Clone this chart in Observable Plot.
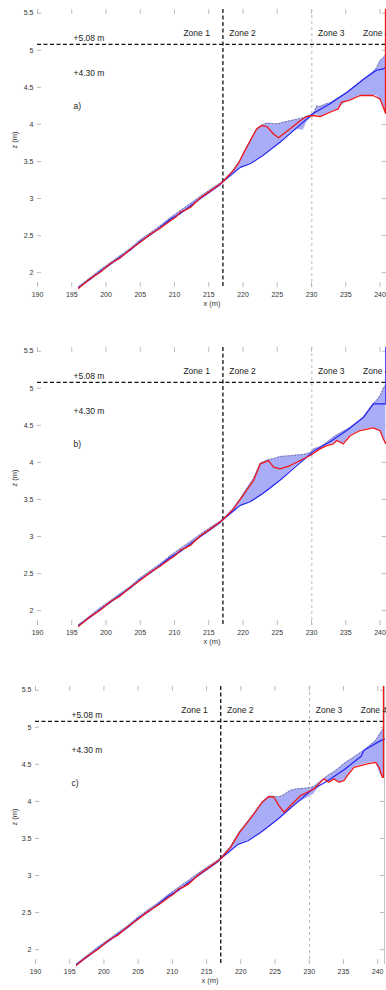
<!DOCTYPE html>
<html>
<head>
<meta charset="utf-8">
<script src="https://cdn.jsdelivr.net/npm/d3@7"></script>
<script src="https://cdn.jsdelivr.net/npm/@observablehq/plot@0.6"></script>
<style>
  html, body { margin: 0; padding: 0; background: #fff; overflow: hidden; }
  #wrap { position: relative; width: 386px; height: 990px; }
  .panel { position: absolute; left: 0; }
</style>
</head>
<body>
<div id="wrap"></div>
<script>
// ---------- axis / reference values ----------
const xTicks = [190, 195, 200, 205, 210, 215, 220, 225, 230, 235, 240];
const yTicks = [2, 2.5, 3, 3.5, 4, 4.5, 5, 5.5];
const zoneLines = [217.07, 230.05];      // black dashed, grey dashed
const levelLine = [5.08];                // +5.08 m
const zoneLabels = [
  {x: 211.3, z: 5.226, t: "Zone 1"},
  {x: 218.0, z: 5.226, t: "Zone 2"},
  {x: 230.96, z: 5.226, t: "Zone 3"},
  {x: 237.52, z: 5.226, t: "Zone 4"}
];
const levelNotes = [
  {x: 195.25, z: 5.16, t: "+5.08 m"},
  {x: 195.25, z: 4.686, t: "+4.30 m"}
];
const panelLetters = ["a)", "b)", "c)"];

// ---------- profiles (x in m, z in m) ----------
// initial profile (blue), shared part
const blueBase = [
  [196.0,1.80],[197.7,1.91],[199.2,2.02],[200.6,2.11],[202.1,2.21],[203.6,2.31],[205.0,2.42],
  [206.5,2.51],[207.9,2.61],[209.4,2.72],[210.9,2.80],[212.3,2.90],[213.8,3.00],[215.2,3.09],
  [216.7,3.19],[217.1,3.23],[219.6,3.42],[221.05,3.47],[222.9,3.58],[225.4,3.76],[227.9,3.96],
  [230.3,4.15],[232.7,4.28],[235.15,4.43],[237.6,4.61]
];
const blueTailA = [[239.0,4.70],[239.5,4.73],[240.48,4.75],[240.95,4.77]];
const blueTailB = [[239.02,4.79],[240.85,4.79],[240.85,5.55]];
const blueTailC = [[238.0,4.69],[240.44,4.82],[241.0,4.84]];

// final profiles (red), shared lower part
const redLow = [
  [196.0,1.79],[197.7,1.92],[199.2,2.01],[200.6,2.12],[202.1,2.20],[203.6,2.32],[205.0,2.41],
  [206.5,2.52],[207.9,2.60],[209.4,2.70],[210.2,2.75],[210.9,2.82],[211.5,2.84],[212.3,2.88],
  [213.8,3.01],[215.2,3.10],[216.7,3.20],[217.1,3.23]
];
const redA = [
  [218.6,3.38],[219.3,3.47],[220.3,3.65],[221.05,3.78],[222.0,3.94],[222.75,3.985],[223.5,3.97],
  [224.45,3.87],[225.17,3.82],[225.9,3.87],[226.88,3.94],[228.34,4.05],[229.3,4.106],[230.28,4.12],
  [231.25,4.106],[232.7,4.164],[233.9,4.21],[234.4,4.30],[235.4,4.32],[237.1,4.39],[239.0,4.39],
  [240.0,4.345],[240.48,4.23],[240.8,4.15],[240.8,5.55]
];
const redB = [
  [218.5,3.36],[219.6,3.50],[220.5,3.62],[221.53,3.755],[222.51,3.98],[223.72,4.025],[224.45,3.935],
  [225.43,3.913],[226.88,3.958],[227.86,4.002],[229.8,4.093],[231.25,4.183],[232.23,4.227],
  [233.19,4.25],[233.69,4.295],[234.65,4.25],[235.63,4.36],[237.08,4.43],[239.02,4.466],
  [240.0,4.43],[240.48,4.318],[240.85,4.254]
];
const redC = [
  [218.5,3.38],[219.8,3.58],[221.0,3.72],[221.92,3.832],[223.14,3.99],[224.11,4.066],[224.84,4.056],
  [225.57,3.944],[226.30,3.854],[227.03,3.921],[227.76,3.989],[228.74,4.079],[229.72,4.124],
  [230.69,4.169],[232.15,4.304],[232.88,4.259],[233.61,4.304],[234.34,4.259],[235.07,4.281],
  [235.57,4.349],[236.54,4.46],[238.49,4.506],[239.71,4.528],[240.19,4.46],[240.69,4.326],
  [240.85,4.326],[240.85,5.55]
];

// envelope of all profiles: [x, lowest z, highest z]
const envLow = [
  [196.0,1.79,1.81],[197.7,1.90,1.93],[199.2,2.00,2.04],[200.6,2.10,2.13],[202.1,2.19,2.23],
  [203.6,2.29,2.33],[205.0,2.40,2.44],[206.5,2.50,2.54],[207.9,2.59,2.63],[209.4,2.69,2.74],
  [210.9,2.79,2.84],[212.3,2.88,2.93],[213.8,2.99,3.03],[215.2,3.07,3.12],[216.7,3.18,3.21]
];
const envA = [
  [217.1,3.22,3.24],[218.6,3.33,3.38],[219.6,3.42,3.52],[220.3,3.44,3.65],[221.05,3.47,3.78],
  [222.0,3.53,3.94],[222.75,3.57,3.99],[223.5,3.62,4.02],[224.45,3.69,4.01],[225.2,3.74,4.01],
  [225.9,3.80,4.03],[226.9,3.88,4.05],[227.9,3.93,4.07],[228.8,3.92,4.09],[229.3,4.03,4.11],
  [230.3,4.12,4.15],[230.8,4.13,4.25],[231.25,4.10,4.24],[232.2,4.14,4.28],[232.7,4.16,4.29],
  [233.9,4.21,4.36],[235.15,4.31,4.43],[237.1,4.39,4.57],[237.6,4.39,4.61],[239.0,4.39,4.71],
  [239.5,4.39,4.76],[240.0,4.34,4.86],[240.48,4.23,4.90],[240.85,4.15,4.94]
];
const envB = [
  [217.1,3.22,3.24],[218.5,3.32,3.37],[219.6,3.42,3.51],[220.5,3.45,3.64],[221.53,3.48,3.78],
  [222.51,3.54,3.99],[223.72,3.62,4.04],[224.45,3.68,4.05],[225.43,3.76,4.08],[226.88,3.88,4.09],
  [227.86,3.96,4.10],[229.0,4.04,4.11],[229.8,4.09,4.13],[230.28,4.15,4.18],[231.25,4.18,4.21],
  [232.23,4.23,4.27],[233.19,4.25,4.34],[233.69,4.29,4.37],[234.65,4.25,4.42],[235.63,4.36,4.47],
  [237.08,4.43,4.57],[237.57,4.44,4.61],[239.02,4.466,4.79],[239.52,4.45,4.84],[240.0,4.43,4.90],
  [240.48,4.318,4.99],[240.85,4.25,5.05]
];
const envC = [
  [217.05,3.22,3.24],[218.5,3.33,3.39],[219.8,3.43,3.59],[221.0,3.47,3.73],[221.92,3.52,3.84],
  [223.14,3.59,4.00],[224.11,3.66,4.07],[224.84,3.71,4.07],[225.57,3.76,4.06],[226.30,3.82,4.09],
  [227.28,3.89,4.15],[228.26,3.97,4.17],[229.72,4.05,4.18],[230.69,4.10,4.20],[232.15,4.30,4.31],
  [232.88,4.26,4.36],[233.61,4.30,4.40],[234.34,4.26,4.45],[235.07,4.28,4.51],[236.54,4.46,4.60],
  [238.0,4.50,4.69],[239.71,4.53,4.82],[240.44,4.35,4.93],[240.85,4.33,4.98]
];

// ---------- panels ----------
const panels = [
  {top: 0,   height: 338, ml: 37, mr: 0, xmax: 240.95, blue: blueTailA, red: redA, env: envA, frameRight: false},
  {top: 338, height: 339, ml: 37, mr: 0, xmax: 240.95, blue: blueTailB, red: redB, env: envB, frameRight: false},
  {top: 677, height: 313, ml: 35, mr: 2, xmax: 241.0,  blue: blueTailC, red: redC, env: envC, frameRight: true}
];

const wrap = document.getElementById("wrap");
const FONT = "Liberation Sans, Arial, Helvetica, sans-serif";

panels.forEach((p, i) => {
  const blue = blueBase.concat(p.blue);
  const red = redLow.concat(p.red);
  const env = envLow.concat(p.env);
  const yMin = 1.8, yMax = 5.55, xMin = 190;
  const marks = [
    Plot.axisX({ticks: xTicks, tickSize: 0, tickPadding: 5, label: null, tickFormat: d => String(d),
                fontSize: 7, fill: "#333"}),
    Plot.axisY({ticks: yTicks, tickSize: 0, tickPadding: 4, label: null, tickFormat: d => String(d),
                fontSize: 7, fill: "#333"}),
    // inward tick marks
    Plot.ruleX(xTicks, {y1: yMin, y2: yMin + 0.065, stroke: "#aaa", strokeWidth: 0.8}),
    Plot.ruleX(xTicks, {y1: yMax - 0.065, y2: yMax, stroke: "#aaa", strokeWidth: 0.8}),
    Plot.ruleY(yTicks, {x1: xMin, x2: xMin + 0.6, stroke: "#aaa", strokeWidth: 0.8}),
    Plot.ruleY(yTicks, {x1: p.xmax - 0.6, x2: p.xmax, stroke: "#aaa", strokeWidth: 0.8})
  ];
  if (p.frameRight) marks.push(Plot.ruleX([p.xmax], {stroke: "#c4c4c4", strokeWidth: 1}));
  marks.push(
    // envelope fill
    Plot.areaY(env, {x: d => d[0], y1: d => d[1], y2: d => d[2], fill: "#a9acf6", fillOpacity: 1}),
    // upper envelope dotted
    Plot.line(env, {x: d => d[0], y: d => d[2], stroke: "#222", strokeWidth: 0.9, strokeDasharray: "1,2.4", strokeOpacity: 0.5}),
    // reference lines
    Plot.ruleX([zoneLines[1]], {stroke: "#b8b8b8", strokeWidth: 1, strokeDasharray: "3,3"}),
    Plot.ruleX([zoneLines[0]], {stroke: "#111", strokeWidth: 1.3, strokeDasharray: "4,2.5"}),
    Plot.ruleY(levelLine, {x1: xMin, x2: p.xmax, stroke: "#111", strokeWidth: 1.3, strokeDasharray: "4,2.5"}),
    // profiles
    Plot.line(blue, {x: d => d[0], y: d => d[1], stroke: "#2323f5", strokeWidth: 1.2}),
    Plot.line(red, {x: d => d[0], y: d => d[1], stroke: "#f01818", strokeWidth: 1.3}),
    // annotations
    Plot.text(zoneLabels, {x: "x", y: "z", text: "t", textAnchor: "start", fontSize: 8.5, fill: "#222"}),
    Plot.text(levelNotes, {x: "x", y: "z", text: "t", textAnchor: "start", fontSize: 8.5, fill: "#222"}),
    Plot.text([panelLetters[i]], {x: 195.25, y: 4.24, text: d => d, textAnchor: "start", fontSize: 8.5, fill: "#222"}),
    Plot.text(["x (m)"], {frameAnchor: "bottom", dy: 18, text: d => d, fontSize: 7.5, fill: "#333"}),
    Plot.text(["z (m)"], {frameAnchor: "left", dx: -(p.ml - 14), rotate: -90, text: d => d, fontSize: 7.5, fill: "#333"})
  );
  const chart = Plot.plot({
    width: 386,
    height: p.height,
    marginLeft: p.ml,
    marginRight: p.mr,
    marginTop: 9,
    marginBottom: p.height - 287,
    x: {domain: [xMin, p.xmax]},
    y: {domain: [yMin, yMax]},
    style: {fontFamily: FONT, background: "white", overflow: "visible"},
    marks
  });
  const div = document.createElement("div");
  div.className = "panel";
  div.style.top = p.top + "px";
  div.appendChild(chart);
  wrap.appendChild(div);
});
</script>
</body>
</html>
